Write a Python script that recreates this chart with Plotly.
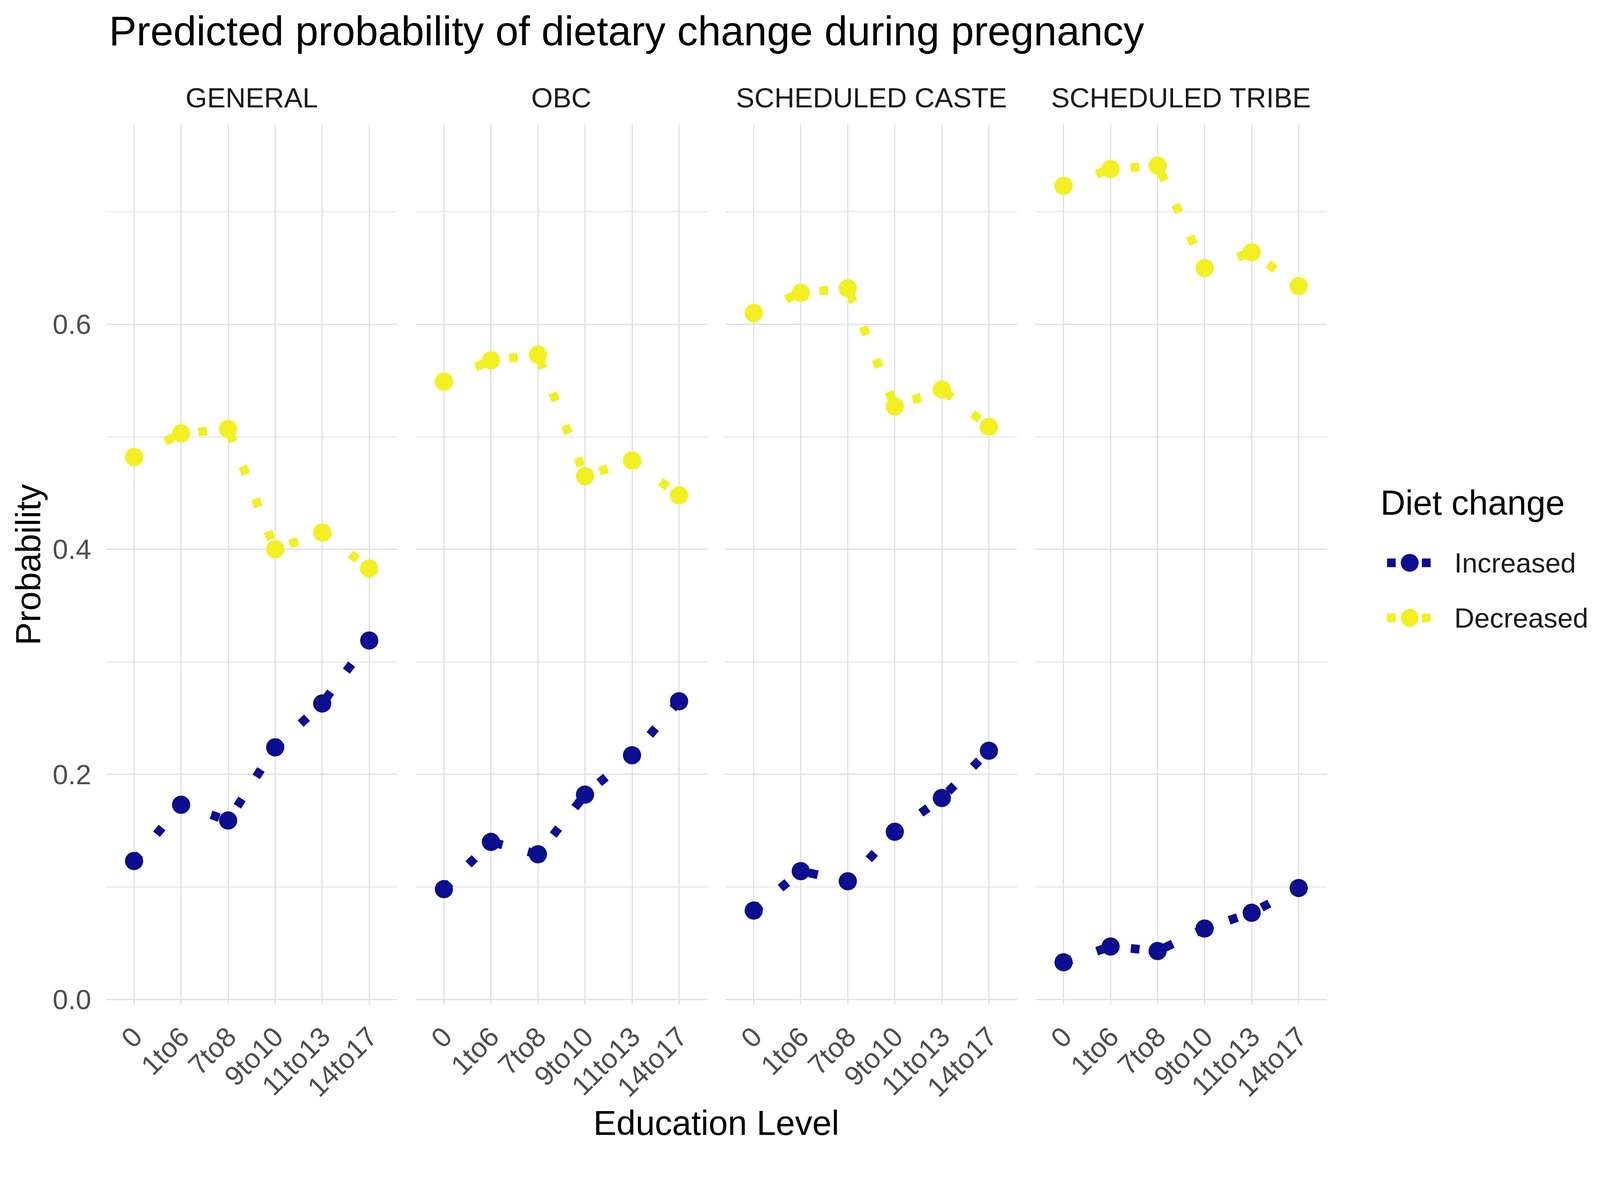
import plotly.graph_objects as go
from plotly.subplots import make_subplots

# data
castes = ["GENERAL", "OBC", "SCHEDULED CASTE", "SCHEDULED TRIBE"]
edu_levels = ["0", "1to6", "7to8", "9to10", "11to13", "14to17"]

increased = {
    "GENERAL": [0.123, 0.173, 0.159, 0.224, 0.263, 0.319],
    "OBC": [0.098, 0.140, 0.129, 0.182, 0.217, 0.265],
    "SCHEDULED CASTE": [0.079, 0.114, 0.105, 0.149, 0.179, 0.221],
    "SCHEDULED TRIBE": [0.033, 0.047, 0.043, 0.063, 0.077, 0.099],
}
decreased = {
    "GENERAL": [0.482, 0.503, 0.507, 0.400, 0.415, 0.383],
    "OBC": [0.549, 0.568, 0.573, 0.465, 0.479, 0.448],
    "SCHEDULED CASTE": [0.610, 0.628, 0.632, 0.527, 0.542, 0.509],
    "SCHEDULED TRIBE": [0.723, 0.738, 0.741, 0.650, 0.664, 0.634],
}

series_names = ["Increased", "Decreased"]
series_colors = {"Increased": "#0B0E8E", "Decreased": "#F2F020"}

y_ticks = [0.0, 0.2, 0.4, 0.6]
y_minor = [0.1, 0.3, 0.5, 0.7]

# layout is worked out in reference-picture pixels, then scaled to the
# css size the browser actually shows
S = 0.972


def s(v):
    return v * S


W, H = 4212, 3024
ML, MR, MT, MB = 279, 40, 328, 378
PW = W - ML - MR
PH = H - MT - MB
PANEL_W, GAP = 768, 48

FONT = "Liberation Sans, Arial, sans-serif"
GRID = "#DCE0E4"
LW = s(23)
DASH = "%.1fpx,%.1fpx" % (s(23), s(69))
MSIZE = s(48)


def px_x(x):
    return (x - ML) / PW


def px_y(y):
    return (H - MB - y) / PH


fig = make_subplots(rows=1, cols=4)

for i, caste in enumerate(castes):
    for name, vals in (("Increased", increased[caste]), ("Decreased", decreased[caste])):
        fig.add_trace(go.Scatter(
            x=edu_levels, y=vals, mode="lines+markers", name=name,
            line=dict(color=series_colors[name], width=LW, dash=DASH),
            marker=dict(color=series_colors[name], size=MSIZE, opacity=1),
            showlegend=False, cliponaxis=False,
        ), row=1, col=i + 1)

    x0 = i * (PANEL_W + GAP) / PW
    x1 = (i * (PANEL_W + GAP) + PANEL_W) / PW
    fig.update_xaxes(
        domain=[x0, x1], type="category", categoryorder="array",
        categoryarray=edu_levels, range=[-0.6, 5.6],
        showgrid=True, gridcolor=GRID, gridwidth=s(3), zeroline=False,
        showline=False, tickangle=-45, ticks="outside", ticklen=s(12),
        tickcolor="rgba(0,0,0,0)",
        tickfont=dict(family=FONT, size=s(73), color="#4D4D4D"),
        row=1, col=i + 1,
    )
    fig.update_yaxes(
        range=[-0.0045, 0.7775], tickvals=y_ticks,
        ticktext=["%.1f" % v for v in y_ticks], showticklabels=(i == 0),
        showgrid=True, gridcolor=GRID, gridwidth=s(3), zeroline=False,
        showline=False, ticks="outside" if i == 0 else "", ticklen=s(23),
        tickcolor="rgba(0,0,0,0)",
        minor=dict(tickvals=y_minor, showgrid=True, gridcolor=GRID,
                   gridwidth=s(2), ticks=""),
        tickfont=dict(family=FONT, size=s(73), color="#4D4D4D"),
        row=1, col=i + 1,
    )
    fig.add_annotation(
        text=caste, xref="paper", yref="paper", x=(x0 + x1) / 2, y=px_y(258),
        xanchor="center", yanchor="middle", showarrow=False,
        font=dict(family=FONT, size=s(73), color="#1A1A1A"),
    )

# hand-made legend key, drawn in its own small hidden axis
fig.update_layout(
    xaxis5=dict(domain=[px_x(3653), px_x(3773)], range=[0, 1], visible=False,
                anchor="y5", fixedrange=True),
    yaxis5=dict(domain=[px_y(1700), px_y(1410)], range=[2, 0], visible=False,
                anchor="x5", fixedrange=True),
)
for k, name in enumerate(series_names):
    fig.add_trace(go.Scatter(
        x=[0, 0.5, 1], y=[k + 0.5] * 3, mode="lines+markers",
        line=dict(color=series_colors[name], width=LW, dash=DASH),
        marker=dict(color=series_colors[name], size=[0, MSIZE, 0], opacity=1),
        xaxis="x5", yaxis="y5", showlegend=False, cliponaxis=False,
        hoverinfo="skip",
    ))
    fig.add_annotation(
        text=name, xref="paper", yref="paper", x=px_x(3828),
        y=px_y(1410 + (k + 0.5) * 145), xanchor="left", yanchor="middle",
        showarrow=False, font=dict(family=FONT, size=s(73), color="#1A1A1A"),
    )

fig.add_annotation(
    text="Diet change", xref="paper", yref="paper", x=px_x(3634), y=px_y(1324),
    xanchor="left", yanchor="middle", showarrow=False,
    font=dict(family=FONT, size=s(91), color="#000000"),
)
fig.add_annotation(
    text="Probability", xref="paper", yref="paper", x=px_x(75), y=0.5,
    xanchor="center", yanchor="middle", textangle=-90, showarrow=False,
    font=dict(family=FONT, size=s(91), color="#000000"),
)
fig.add_annotation(
    text="Education Level", xref="paper", yref="paper",
    x=px_x(ML + (3 * (PANEL_W + GAP) + PANEL_W) / 2), y=px_y(2958),
    xanchor="center", yanchor="middle", showarrow=False,
    font=dict(family=FONT, size=s(91), color="#000000"),
)

fig.update_layout(
    width=round(s(W)), height=round(s(H)),
    margin=dict(l=s(ML), r=s(MR), t=s(MT), b=s(MB), pad=0),
    paper_bgcolor="white", plot_bgcolor="white",
    title=dict(text="Predicted probability of dietary change during pregnancy",
               x=287 / W, xanchor="left", y=1 - 81 / H, yanchor="middle",
               font=dict(family=FONT, size=s(109), color="#000000")),
    showlegend=False,
    font=dict(family=FONT),
)

fig.write_html("out.html", config={"displayModeBar": False},
               post_script="document.body.style.margin = '0px';")
